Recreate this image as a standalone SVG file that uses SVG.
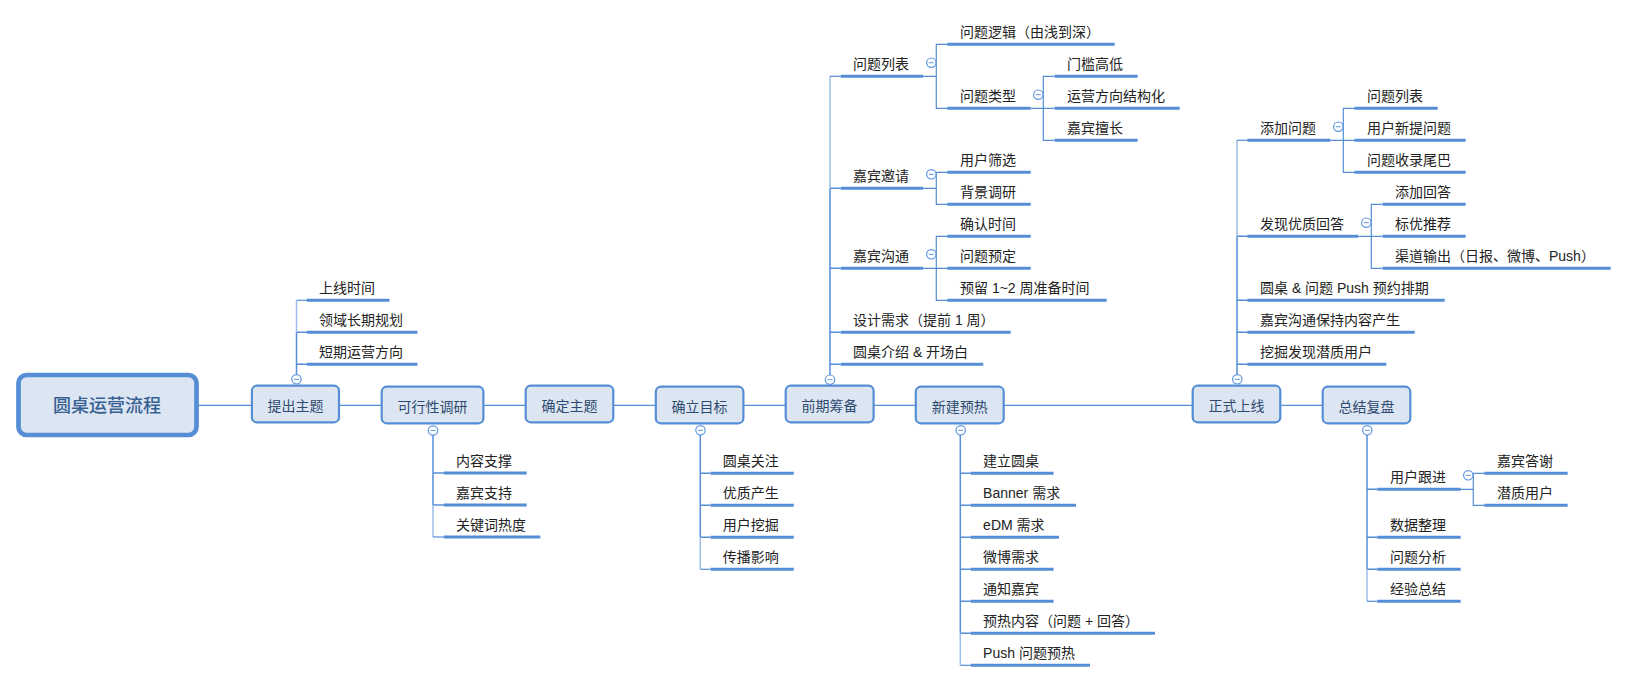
<svg xmlns="http://www.w3.org/2000/svg" width="1628" height="682" viewBox="0 0 1628 682">
<style>
text{font-family:"Liberation Sans","Noto Sans CJK SC",sans-serif;font-size:14px;fill:#222}
.ul+text{transform:translateX(-.7px)}
.box{fill:#dce6f2;stroke:#558ed5;stroke-width:2.2}
.bt{text-anchor:middle;fill:#2f4a70}
.rt{text-anchor:middle;font-size:18px;font-weight:500;fill:#376092}
.ul{stroke:#558ed5;stroke-width:3;fill:none}
.c{stroke:#558ed5;stroke-width:1.2;fill:none}
.v{stroke:#558ed5;stroke-width:1.5;fill:none}
.l{stroke:#9dbdea;stroke-width:1.5;fill:none}
.col{fill:#fff;stroke:#5f96e2;stroke-width:1.2}
.m{stroke:#5f96e2;stroke-width:1;fill:none}
</style>
<defs>
<g id="collapse"><circle class="col" r="4.7"/><path class="m" d="M-2.5 0H2.5"/></g>
</defs>
<g id="connectors">
<path class="c" d="M198 405.3H1323"/>
<path class="v" d="M296.5 375V332.3M296.5 364.3H306.6M296.5 332.3H306.6"/><path class="l" d="M296.5 332.3V300.3"/><path class="c" d="M296.5 300.3H306.6"/>
<path class="v" d="M433 435V505M433 473H443.7M433 505H443.7"/><path class="l" d="M433 505V537"/><path class="c" d="M433 537H443.7"/>
<path class="v" d="M700.3 435V537.3M700.3 473.3H710.6M700.3 505.3H710.6M700.3 537.3H710.6"/><path class="l" d="M700.3 537.3V569.3"/><path class="c" d="M700.3 569.3H710.6"/>
<path class="v" d="M960.3 435V633.3M960.3 473.3H970.6M960.3 505.3H970.6M960.3 537.3H970.6M960.3 569.3H970.6M960.3 601.3H970.6M960.3 633.3H970.6"/><path class="l" d="M960.3 633.3V665.3"/><path class="c" d="M960.3 665.3H970.6"/>
<path class="v" d="M830 375V188.3M830 364.3H840.7M830 332.3H840.7M830 268.3H840.7M830 188.3H840.7"/><path class="l" d="M830 188.3V76.3"/><path class="c" d="M830 76.3H840.7"/>
<path class="c" d="M923.3 76.3H936.3M947.3 44.3H936.3V108.3H947.3"/>
<path class="c" d="M1030.7 108.3H1054.7M1054.7 76.3H1043.3V140.3H1054.7"/>
<path class="c" d="M923.3 188.3H936.3M947.3 172.3H936.3V204.3H947.3"/>
<path class="c" d="M923.3 268.3H947.3M947.3 236.3H936.3V300.3H947.3"/>
<path class="v" d="M1237 375V236.3M1237 364.3H1247.3M1237 332.3H1247.3M1237 300.3H1247.3M1237 236.3H1247.3"/><path class="l" d="M1237 236.3V140.3"/><path class="c" d="M1237 140.3H1247.3"/>
<path class="c" d="M1330.3 140.3H1354.3M1354.3 108.3H1343.3V172.3H1354.3"/>
<path class="c" d="M1358.3 236.3H1382.7M1382.7 204.3H1371.3V268.3H1382.7"/>
<path class="v" d="M1367 435V569.3M1367 489.3H1377.3M1367 537.3H1377.3M1367 569.3H1377.3"/><path class="l" d="M1367 569.3V601.3"/><path class="c" d="M1367 601.3H1377.3"/>
<path class="c" d="M1460.7 489.3H1473.3M1484.3 473.3H1473.3V505.3H1484.3"/>
</g>
<g id="root"><rect x="18.5" y="375" width="178" height="60" rx="8" fill="#dce6f2" stroke="#558ed5" stroke-width="4.7"/><text class="rt" x="107" y="412">圆桌运营流程</text></g>
<g id="n-tichu"><rect class="box" x="251.9" y="385.7" width="87.1" height="36.6" rx="5"/><text class="bt" x="295.4" y="411">提出主题</text><use href="#collapse" x="296.5" y="379.3"/></g>
<g id="n-kexing"><rect class="box" x="381.7" y="386.7" width="101.7" height="36.6" rx="5"/><text class="bt" x="432.5" y="412">可行性调研</text><use href="#collapse" x="433" y="430.5"/></g>
<g id="n-queding"><rect class="box" x="525.7" y="385.7" width="87.6" height="36.6" rx="5"/><text class="bt" x="569.5" y="411">确定主题</text></g>
<g id="n-mubiao"><rect class="box" x="655.8" y="386.7" width="87.6" height="36.6" rx="5"/><text class="bt" x="699.6" y="412">确立目标</text><use href="#collapse" x="700.5" y="430.3"/></g>
<g id="n-qianqi"><rect class="box" x="785.7" y="385.7" width="87.9" height="36.6" rx="5"/><text class="bt" x="829.6" y="411">前期筹备</text><use href="#collapse" x="830" y="379.7"/></g>
<g id="n-yure"><rect class="box" x="915.8" y="386.7" width="87.9" height="36.6" rx="5"/><text class="bt" x="959.7" y="412">新建预热</text><use href="#collapse" x="960.7" y="430.3"/></g>
<g id="n-shangxian"><rect class="box" x="1192.7" y="385.7" width="87.6" height="36.6" rx="5"/><text class="bt" x="1236.5" y="411">正式上线</text><use href="#collapse" x="1237.3" y="379.3"/></g>
<g id="n-fupan"><rect class="box" x="1322.7" y="386.7" width="87.6" height="36.6" rx="5"/><text class="bt" x="1366.5" y="412">总结复盘</text><use href="#collapse" x="1367.3" y="430.3"/></g>

<g id="a1"><path class="ul" d="M306.6 300.3H389.5"/><text x="319.8" y="293.3">上线时间</text></g>
<g id="a2"><path class="ul" d="M306.6 332.3H417.5"/><text x="319.8" y="325.3">领域长期规划</text></g>
<g id="a3"><path class="ul" d="M306.6 364.3H417.5"/><text x="319.8" y="357.3">短期运营方向</text></g>

<g id="b1"><path class="ul" d="M443.7 473H526.7"/><text x="456.7" y="466">内容支撑</text></g>
<g id="b2"><path class="ul" d="M443.7 505H526.7"/><text x="456.7" y="498">嘉宾支持</text></g>
<g id="b3"><path class="ul" d="M443.7 537H540.3"/><text x="456.7" y="530">关键词热度</text></g>

<g id="c1"><path class="ul" d="M710.6 473.3H793.8"/><text x="723.5" y="466.3">圆桌关注</text></g>
<g id="c2"><path class="ul" d="M710.6 505.3H793.8"/><text x="723.5" y="498.3">优质产生</text></g>
<g id="c3"><path class="ul" d="M710.6 537.3H793.8"/><text x="723.5" y="530.3">用户挖掘</text></g>
<g id="c4"><path class="ul" d="M710.6 569.3H793.8"/><text x="723.5" y="562.3">传播影响</text></g>

<g id="d1"><path class="ul" d="M970.6 473.3H1053.6"/><text x="983.8" y="466.3">建立圆桌</text></g>
<g id="d2"><path class="ul" d="M970.6 505.3H1076"/><text x="983.8" y="498.3">Banner 需求</text></g>
<g id="d3"><path class="ul" d="M970.6 537.3H1059"/><text x="983.8" y="530.3">eDM 需求</text></g>
<g id="d4"><path class="ul" d="M970.6 569.3H1053.6"/><text x="983.8" y="562.3">微博需求</text></g>
<g id="d5"><path class="ul" d="M970.6 601.3H1053.6"/><text x="983.8" y="594.3">通知嘉宾</text></g>
<g id="d6"><path class="ul" d="M970.6 633.3H1155"/><text x="983.8" y="626.3">预热内容（问题 + 回答）</text></g>
<g id="d7"><path class="ul" d="M970.6 665.3H1090"/><text x="983.8" y="658.3">Push 问题预热</text></g>

<g id="e1"><path class="ul" d="M840.7 76.3H923.3"/><text x="853.7" y="69.3">问题列表</text><use href="#collapse" x="931.3" y="62.7"/></g>
<g id="e11"><path class="ul" d="M947.3 44.3H1114.7"/><text x="960.7" y="37.3">问题逻辑（由浅到深）</text></g>
<g id="e12"><path class="ul" d="M947.3 108.3H1030.7"/><text x="960.7" y="101.3">问题类型</text><use href="#collapse" x="1038.3" y="94.7"/></g>
<g id="e121"><path class="ul" d="M1054.7 76.3H1137.7"/><text x="1067.7" y="69.3">门槛高低</text></g>
<g id="e122"><path class="ul" d="M1054.7 108.3H1179.7"/><text x="1067.7" y="101.3">运营方向结构化</text></g>
<g id="e123"><path class="ul" d="M1054.7 140.3H1137.7"/><text x="1067.7" y="133.3">嘉宾擅长</text></g>
<g id="e2"><path class="ul" d="M840.7 188.3H923.3"/><text x="853.7" y="181.3">嘉宾邀请</text><use href="#collapse" x="931.3" y="174.3"/></g>
<g id="e21"><path class="ul" d="M947.3 172.3H1030.7"/><text x="960.7" y="165.3">用户筛选</text></g>
<g id="e22"><path class="ul" d="M947.3 204.3H1030.7"/><text x="960.7" y="197.3">背景调研</text></g>
<g id="e3"><path class="ul" d="M840.7 268.3H923.3"/><text x="853.7" y="261.3">嘉宾沟通</text><use href="#collapse" x="931.3" y="254.3"/></g>
<g id="e31"><path class="ul" d="M947.3 236.3H1030.7"/><text x="960.7" y="229.3">确认时间</text></g>
<g id="e32"><path class="ul" d="M947.3 268.3H1030.7"/><text x="960.7" y="261.3">问题预定</text></g>
<g id="e33"><path class="ul" d="M947.3 300.3H1106.7"/><text x="960.7" y="293.3">预留 1~2 周准备时间</text></g>
<g id="e4"><path class="ul" d="M840.7 332.3H1010.7"/><text x="853.7" y="325.3">设计需求（提前 1 周）</text></g>
<g id="e5"><path class="ul" d="M840.7 364.3H983.3"/><text x="853.7" y="357.3">圆桌介绍 &amp; 开场白</text></g>

<g id="f1"><path class="ul" d="M1247.3 140.3H1330.3"/><text x="1260.7" y="133.3">添加问题</text><use href="#collapse" x="1338.3" y="126.7"/></g>
<g id="f11"><path class="ul" d="M1354.3 108.3H1437.7"/><text x="1367.7" y="101.3">问题列表</text></g>
<g id="f12"><path class="ul" d="M1354.3 140.3H1465.7"/><text x="1367.7" y="133.3">用户新提问题</text></g>
<g id="f13"><path class="ul" d="M1354.3 172.3H1465.7"/><text x="1367.7" y="165.3">问题收录尾巴</text></g>
<g id="f2"><path class="ul" d="M1247.3 236.3H1358.3"/><text x="1260.7" y="229.3">发现优质回答</text><use href="#collapse" x="1366.3" y="222.7"/></g>
<g id="f21"><path class="ul" d="M1382.7 204.3H1465.7"/><text x="1395.7" y="197.3">添加回答</text></g>
<g id="f22"><path class="ul" d="M1382.7 236.3H1465.7"/><text x="1395.7" y="229.3">标优推荐</text></g>
<g id="f23"><path class="ul" d="M1382.7 268.3H1610.7"/><text x="1395.7" y="261.3">渠道输出（日报、微博、Push）</text></g>
<g id="f3"><path class="ul" d="M1247.3 300.3H1444.7"/><text x="1260.7" y="293.3">圆桌 &amp; 问题 Push 预约排期</text></g>
<g id="f4"><path class="ul" d="M1247.3 332.3H1414.7"/><text x="1260.7" y="325.3">嘉宾沟通保持内容产生</text></g>
<g id="f5"><path class="ul" d="M1247.3 364.3H1386.3"/><text x="1260.7" y="357.3">挖掘发现潜质用户</text></g>

<g id="g1"><path class="ul" d="M1377.3 489.3H1460.7"/><text x="1390.7" y="482.3">用户跟进</text><use href="#collapse" x="1468.3" y="475.3"/></g>
<g id="g11"><path class="ul" d="M1484.3 473.3H1567.7"/><text x="1497.7" y="466.3">嘉宾答谢</text></g>
<g id="g12"><path class="ul" d="M1484.3 505.3H1567.7"/><text x="1497.7" y="498.3">潜质用户</text></g>
<g id="g2"><path class="ul" d="M1377.3 537.3H1460.7"/><text x="1390.7" y="530.3">数据整理</text></g>
<g id="g3"><path class="ul" d="M1377.3 569.3H1460.7"/><text x="1390.7" y="562.3">问题分析</text></g>
<g id="g4"><path class="ul" d="M1377.3 601.3H1460.7"/><text x="1390.7" y="594.3">经验总结</text></g>
</svg>
